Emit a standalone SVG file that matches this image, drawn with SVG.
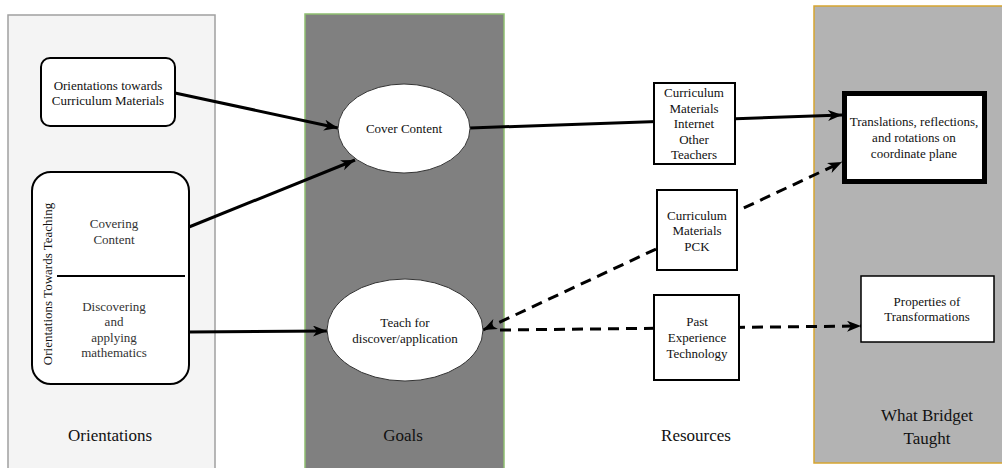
<svg xmlns="http://www.w3.org/2000/svg" width="1002" height="468" viewBox="0 0 1002 468" font-family="'Liberation Serif', 'Times New Roman', 'DejaVu Serif', serif">
<style>
text{font-family:'Liberation Serif','Times New Roman','DejaVu Serif',serif;fill:#111;text-anchor:middle}
.n{font-size:13px}
.lbl{font-size:17px}
.box{fill:#fff;stroke:#000;stroke-width:2}
.con{fill:none;stroke:#000;stroke-width:3}
.dash{stroke-dasharray:11 7}
</style>
<defs>
<marker id="arr" markerUnits="userSpaceOnUse" markerWidth="16" markerHeight="12" refX="14" refY="5.5" orient="auto-start-reverse">
<path d="M0,0 L14,5.5 L0,11 L4,5.5 Z" fill="#000"/>
</marker>
</defs>
<g id="lanes">
<rect id="lane-orientations" x="8" y="15" width="207" height="470" fill="#f4f4f4" stroke="#a0a0a0" stroke-width="1.5"/>
<rect id="lane-goals" x="305" y="14" width="199" height="470" fill="#808080" stroke="#8fbf70" stroke-width="1.5"/>
<rect id="lane-taught" x="814" y="6" width="210" height="457" fill="#b3b3b3" stroke="#d6a531" stroke-width="1.5"/>
<text class="lbl" x="110" y="441">Orientations</text>
<text class="lbl" x="403" y="441">Goals</text>
<text class="lbl" x="696" y="441">Resources</text>
<text class="lbl" x="927" y="421">What Bridget</text>
<text class="lbl" x="927" y="444">Taught</text>
</g>
<g id="connectors">
<line class="con" x1="175" y1="93" x2="338" y2="128" marker-end="url(#arr)"/>
<line class="con" x1="189" y1="227" x2="355" y2="160" marker-end="url(#arr)"/>
<line class="con" x1="189" y1="332" x2="327" y2="331" marker-end="url(#arr)"/>
<line class="con" x1="470" y1="128" x2="842" y2="115" marker-end="url(#arr)"/>
<line class="con dash" x1="483" y1="330" x2="842" y2="162" marker-start="url(#arr)" marker-end="url(#arr)"/>
<line class="con dash" x1="500" y1="330" x2="861" y2="326" marker-end="url(#arr)"/>
</g>
<g id="n-orient-cm">
<rect class="box" x="41" y="58" width="134" height="68" rx="9"/>
<text class="n" x="108" y="90">Orientations towards</text>
<text class="n" x="108" y="105">Curriculum Materials</text>
</g>
<g id="n-orient-teaching">
<rect class="box" x="32" y="172" width="157" height="212" rx="19"/>
<line x1="57" y1="276" x2="185" y2="276" stroke="#000" stroke-width="2"/>
<text class="n" transform="translate(52,284) rotate(-90)">Orientations Towards Teaching</text>
<text class="n" x="114" y="228" style="fill:#333">Covering</text>
<text class="n" x="114" y="244" style="fill:#333">Content</text>
<text class="n" x="114" y="311" style="fill:#333">Discovering</text>
<text class="n" x="114" y="326" style="fill:#333">and</text>
<text class="n" x="114" y="342" style="fill:#333">applying</text>
<text class="n" x="114" y="357" style="fill:#333">mathematics</text>
</g>
<g id="n-cover">
<ellipse cx="404" cy="128.5" rx="66" ry="44.5" fill="#fff" stroke="#333" stroke-width="1"/>
<text class="n" x="404" y="133">Cover Content</text>
</g>
<g id="n-teach">
<ellipse cx="405" cy="330" rx="78" ry="51" fill="#fff" stroke="#333" stroke-width="1"/>
<text class="n" x="405" y="327">Teach for</text>
<text class="n" x="405" y="343">discover/application</text>
</g>
<g id="n-res1">
<rect class="box" x="654" y="83" width="81" height="81"/>
<text class="n" x="694" y="97">Curriculum</text>
<text class="n" x="694" y="113">Materials</text>
<text class="n" x="694" y="128">Internet</text>
<text class="n" x="694" y="144">Other</text>
<text class="n" x="694" y="159">Teachers</text>
</g>
<g id="n-res2">
<rect class="box" x="657" y="190" width="80" height="80"/>
<text class="n" x="697" y="220">Curriculum</text>
<text class="n" x="697" y="235">Materials</text>
<text class="n" x="697" y="251">PCK</text>
</g>
<g id="n-res3">
<rect class="box" x="654" y="295" width="85" height="85"/>
<text class="n" x="697" y="326">Past</text>
<text class="n" x="697" y="342">Experience</text>
<text class="n" x="697" y="358">Technology</text>
</g>
<g id="n-translations">
<rect x="844.5" y="93.5" width="140" height="88" fill="#fff" stroke="#000" stroke-width="5"/>
<text class="n" x="914" y="126">Translations, reflections,</text>
<text class="n" x="914" y="142">and rotations on</text>
<text class="n" x="914" y="158">coordinate plane</text>
</g>
<g id="n-properties">
<rect x="861" y="276" width="133" height="66" fill="#fff" stroke="#000" stroke-width="1.5"/>
<text class="n" x="927" y="306">Properties of</text>
<text class="n" x="927" y="321">Transformations</text>
</g>
</svg>
